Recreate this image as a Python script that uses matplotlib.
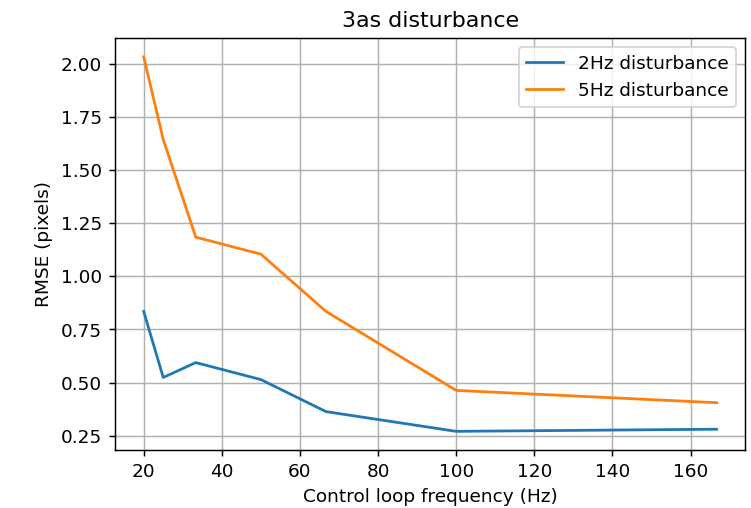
import matplotlib
matplotlib.use("Agg")
import matplotlib.pyplot as plt

freq = [20, 25, 33.33, 50, 66.67, 100, 166.67]
rmse_2hz = [0.835, 0.524, 0.594, 0.514, 0.363, 0.27, 0.28]
rmse_5hz = [2.035, 1.645, 1.185, 1.105, 0.835, 0.463, 0.405]

fig, ax = plt.subplots(figsize=(5.654, 3.82), dpi=133)
ax.plot(freq, rmse_2hz, label="2Hz disturbance")
ax.plot(freq, rmse_5hz, label="5Hz disturbance")
ax.set_xlabel("Control loop frequency (Hz)")
ax.set_ylabel("RMSE (pixels)")
ax.set_title("3as disturbance")
ax.grid(True)
ax.legend()
fig.subplots_adjust(left=0.153, right=0.991, top=0.925, bottom=0.114)
fig.savefig("out.png")
